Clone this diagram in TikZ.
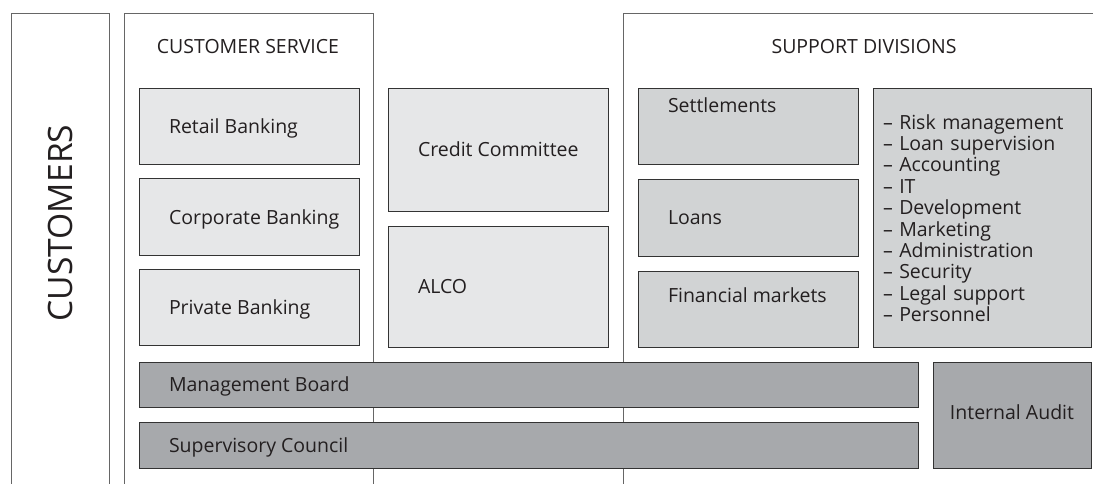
\documentclass[tikz,border=0pt]{standalone}
\usepackage{fontspec}
\setmainfont{Open Sans}
\usetikzlibrary{positioning}

% grey tones of the chart
\definecolor{unitgrey}{HTML}{E6E7E8}
\definecolor{supportgrey}{HTML}{D1D3D4}
\definecolor{boardgrey}{HTML}{A7A9AC}
\definecolor{inkgrey}{HTML}{231F20}

% text set flush left in a box of fixed width
\newcommand{\boxlabel}[2][160pt]{\makebox[#1][l]{#2}}

\begin{document}
\begin{tikzpicture}[
  x=1pt, y=-1pt,
  font=\fontsize{19.5}{21.4}\selectfont,
  text=inkgrey,
  node distance = 14pt and 29pt,
  % Panel outlines
  panel/.style={
    draw=black!60,
    line width=1pt
  },
  paneltitle/.style={
    inner sep=0pt
  },
  % Box styles
  unitbox/.style={
    draw=black!80,
    line width=1pt,
    outer sep=0pt,
    fill=unitgrey,
    minimum width=220pt,
    minimum height=76pt,
    inner xsep=30pt,
    inner ysep=0pt,
    text height=14pt,
    text depth=0pt
  },
  supportbox/.style={
    unitbox,
    fill=supportgrey
  },
  listbox/.style={
    supportbox,
    minimum width=218pt,
    minimum height=258pt,
    inner xsep=10pt,
    text width=198pt,
    text height=,
    text depth=,
    align=left
  },
  boardbox/.style={
    unitbox,
    fill=boardgrey,
    minimum width=779pt,
    minimum height=45.5pt
  },
  auditbox/.style={
    boardbox,
    minimum width=158pt,
    minimum height=106pt,
    inner xsep=5pt,
    text depth=6pt
  }
]

\path[use as bounding box, fill=white] (0,0) rectangle (1093,484);

% -----------------------------------------------
% PANELS (open at the bottom)
% -----------------------------------------------
\draw[panel] (11,484) |- (109,14) -- (109,484);
\draw[panel] (124,484) |- (373,14) -- (373,484);
\draw[panel] (623,484) |- (1094,14);

\node[rotate=90, font=\fontsize{33.6}{36}\selectfont] (customers) at (60,223) {CUSTOMERS};
\node[paneltitle] (serviceTitle) at (248,47) {CUSTOMER SERVICE};
\node[paneltitle] (supportTitle) at (864,47) {SUPPORT DIVISIONS};

% -----------------------------------------------
% CUSTOMER SERVICE
% -----------------------------------------------
\node[unitbox, anchor=north west] (retail) at (139,89) {\boxlabel{Retail Banking}};
\node[unitbox, below=of retail] (corporate) {\boxlabel{Corporate Banking}};
\node[unitbox, below=of corporate] (private) {\boxlabel{Private Banking}};

% -----------------------------------------------
% COMMITTEES
% -----------------------------------------------
\node[unitbox, minimum height=122pt, below right=0pt and 29pt of retail.north east] (credit) {\boxlabel{Credit Committee}};
\node[unitbox, minimum height=121pt, below=15pt of credit] (alco) {\boxlabel{ALCO}};

% -----------------------------------------------
% SUPPORT DIVISIONS
% -----------------------------------------------
\node[supportbox, text depth=42pt, below right=0pt and 30pt of credit.north east] (settlements) {\boxlabel{Settlements}};
\node[supportbox, below=15pt of settlements] (loans) {\boxlabel{Loans}};
\node[supportbox, text depth=28pt, below=15pt of loans] (markets) {\boxlabel{Financial markets}};

\node[listbox, below right=0pt and 15pt of settlements.north east] (functions) {
  -- Risk management\\
  -- Loan supervision\\
  -- Accounting\\
  -- IT\\
  -- Development\\
  -- Marketing\\
  -- Administration\\
  -- Security\\
  -- Legal support\\
  -- Personnel
};

% -----------------------------------------------
% GOVERNING BODIES
% -----------------------------------------------
\node[boardbox, below=17pt of private.south west, anchor=north west] (board) {\boxlabel[719pt]{Management Board}};
\node[boardbox, below=15pt of board] (council) {\boxlabel[719pt]{Supervisory Council}};
\node[auditbox, below right=0pt and 15pt of board.north east] (audit) {Internal Audit};

\end{tikzpicture}
\end{document}
